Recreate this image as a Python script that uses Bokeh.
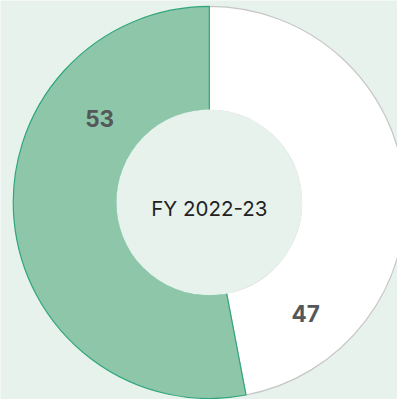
import math
from bokeh.plotting import figure
from bokeh.models import Range1d
from bokeh.core.properties import value
from bokeh.embed import file_html
from bokeh.resources import INLINE

# ---- data ----
categories = ["Share A", "Share B"]
values = [53, 47]
center_label = "FY 2022-23"

# ---- style ----
BG = "#e7f2ed"
fills = ["#8ec6aa", "#ffffff"]
strokes = ["#2fa77b", "#c6c6c6"]
label_angle_deg = [142.5, -49.1]
label_radius = [141, 150]

W, H = 397, 399
p = figure(width=W, height=H, output_backend="svg", toolbar_location=None,
           x_range=Range1d(0, 405), y_range=Range1d(0, 407),
           min_border=0, background_fill_color=BG, border_fill_color=BG)
p.axis.visible = False
p.grid.visible = False
p.outline_line_color = None

cx, cy = 213, 201
r_in, r_out = 94, 200

total = float(sum(values))
starts, ends = [], []
a = math.pi / 2
for v in values:
    starts.append(a)
    a = a + 2 * math.pi * v / total
    ends.append(a)

# draw white (second) first, then green on top
for i in [1, 0]:
    p.annular_wedge(x=cx, y=cy, inner_radius=r_in, outer_radius=r_out,
                    start_angle=starts[i], end_angle=ends[i], direction="anticlock",
                    fill_color=fills[i], line_color=strokes[i], line_width=1.2)

p.circle(x=cx, y=cy, radius=r_in, fill_color=BG, line_color=BG, line_width=1.5)

lx = [cx + r * math.cos(math.radians(d)) for r, d in zip(label_radius, label_angle_deg)]
ly = [cy + r * math.sin(math.radians(d)) for r, d in zip(label_radius, label_angle_deg)]
p.text(x=lx, y=ly, text=[str(v) for v in values], text_align="center",
       text_baseline="middle", text_font=value("Inter"), text_font_style="bold",
       text_font_size="22.5px", text_color="#555858")

p.text(x=[cx], y=[cy - 6], text=[center_label], text_align="center",
       text_baseline="middle", text_font=value("Inter"),
       text_font_size="20.5px", text_color="#222222")

open("out.html", "w").write(file_html(p, INLINE))
